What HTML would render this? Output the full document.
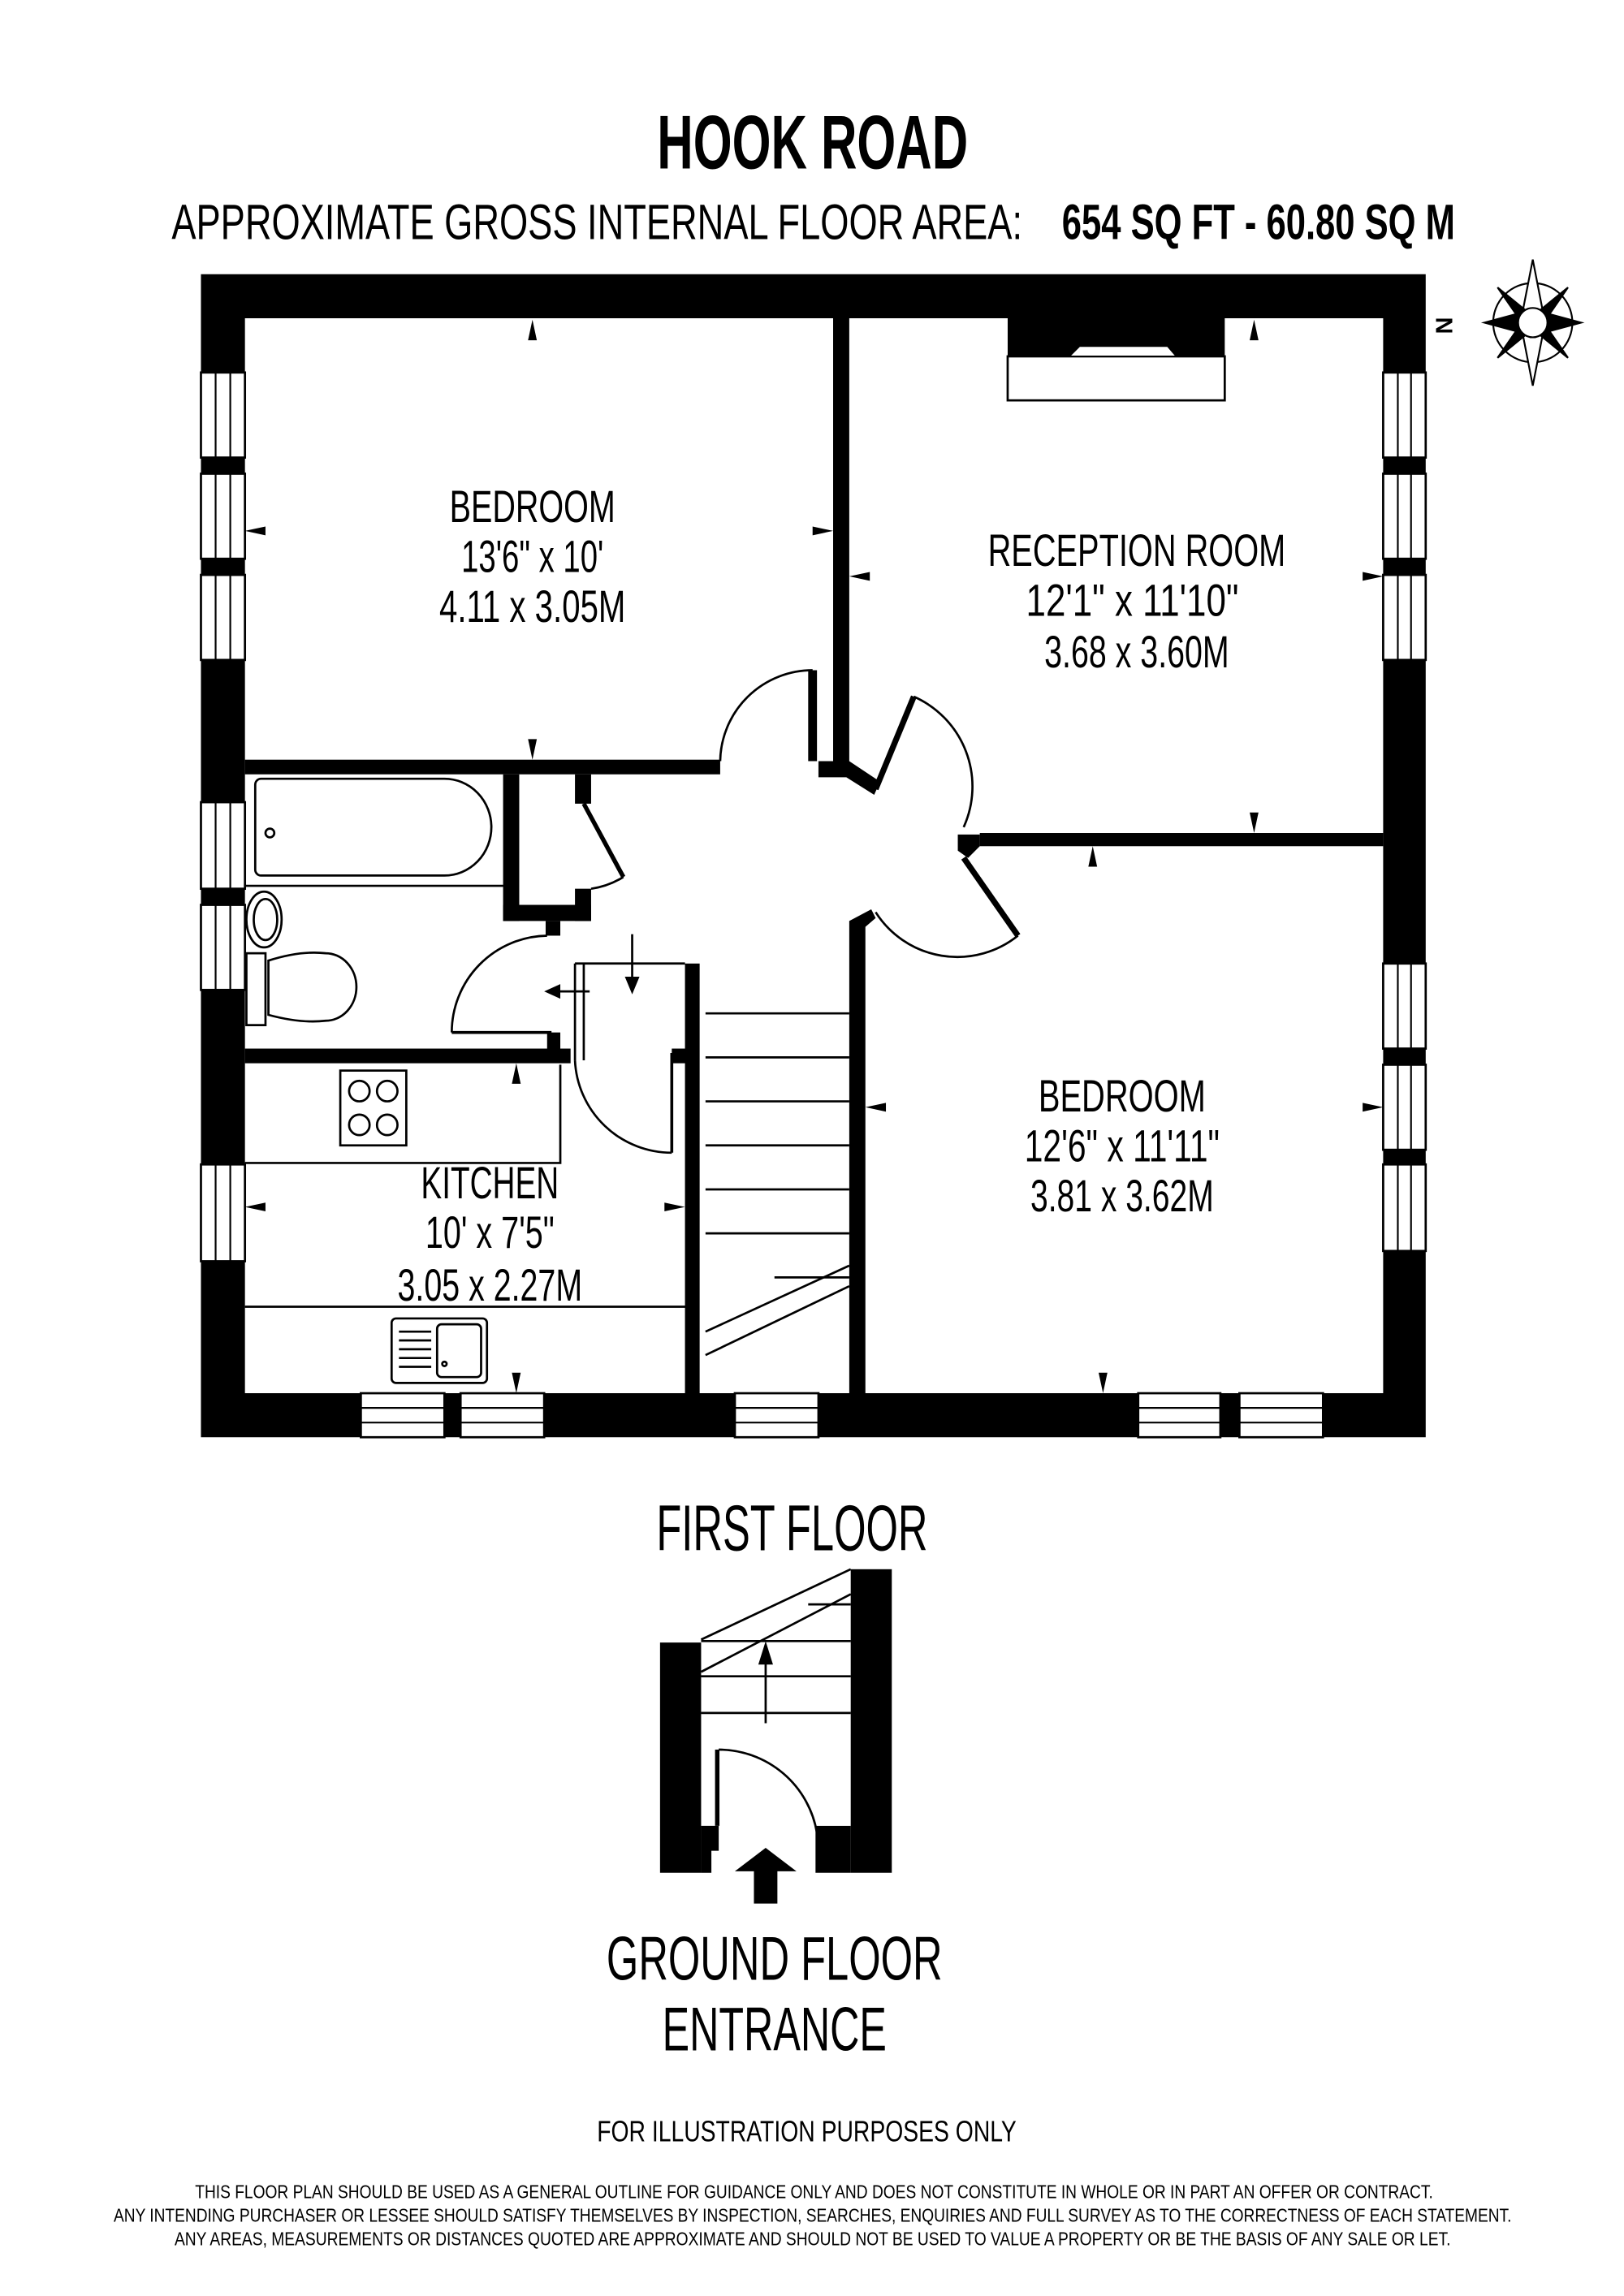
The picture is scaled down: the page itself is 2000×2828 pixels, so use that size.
<!DOCTYPE html>
<html><head><meta charset="utf-8"><style>
html,body{margin:0;padding:0;background:#fff}
svg{display:block}
text{font-family:"Liberation Sans",sans-serif;fill:#000}
</style></head><body>
<svg width="2000" height="2828" viewBox="0 0 1100 1555.4" xmlns="http://www.w3.org/2000/svg">
<rect width="1100" height="1556" fill="#fff"/>
<g transform="scale(0.9935)">
<!-- titles -->
<text x="554" y="115" font-size="52" font-weight="bold" text-anchor="middle" textLength="212" lengthAdjust="spacingAndGlyphs">HOOK ROAD</text>
<text x="117" y="163" font-size="34" textLength="580" lengthAdjust="spacingAndGlyphs">APPROXIMATE GROSS INTERNAL FLOOR AREA:</text>
<text x="724" y="163" font-size="34" font-weight="bold" textLength="268" lengthAdjust="spacingAndGlyphs">654 SQ FT  -  60.80 SQ M</text>

<!-- outer walls -->
<path fill="#000" fill-rule="evenodd" d="M137 187H972V980H137Z M167 217H943V950H167Z"/>
<g fill="#fff" stroke="#000" stroke-width="1.5">
<rect x="137" y="254" width="30" height="58"/><rect x="137" y="323" width="30" height="58"/><rect x="137" y="392" width="30" height="58"/>
<rect x="137" y="547" width="30" height="59"/><rect x="137" y="617" width="30" height="58"/><rect x="137" y="794" width="30" height="66"/>
<rect x="943" y="254" width="29" height="58"/><rect x="943" y="323" width="29" height="58"/><rect x="943" y="392" width="29" height="58"/>
<rect x="943" y="657" width="29" height="58"/><rect x="943" y="726" width="29" height="58"/><rect x="943" y="794" width="29" height="59"/>
<rect x="246" y="950" width="57" height="30"/><rect x="314" y="950" width="57" height="30"/><rect x="501" y="950" width="57" height="30"/>
<rect x="776" y="950" width="56" height="30"/><rect x="845" y="950" width="57" height="30"/>
</g>
<g stroke="#000" stroke-width="1.2">
<path d="M147 254V312M157 254V312M147 323V381M157 323V381M147 392V450M157 392V450M147 547V606M157 547V606M147 617V675M157 617V675M147 794V860M157 794V860"/>
<path d="M953 254V312M962 254V312M953 323V381M962 323V381M953 392V450M962 392V450M953 657V715M962 657V715M953 726V784M962 726V784M953 794V853M962 794V853"/>
<path d="M246 960H303M246 970H303M314 960H371M314 970H371M501 960H558M501 970H558M776 960H832M776 970H832M845 960H902M845 970H902"/>
</g>

<!-- interior walls -->
<g fill="#000">
<rect x="167" y="518" width="324" height="10"/>
<rect x="568" y="217" width="11" height="310"/>
<polygon points="558,519 579,519 600,533 596,542 577,530 558,530"/>
<rect x="668" y="568" width="275" height="9"/>
<polygon points="653,569 668,569 668,577 660,585 653,580"/>
<rect x="579" y="628" width="11" height="322"/>
<polygon points="579,628 594,620 597,626 590,632"/>
<rect x="467" y="657" width="10" height="293"/>
<rect x="343" y="528" width="11" height="100"/>
<rect x="343" y="617" width="60" height="11"/>
<rect x="392" y="528" width="11" height="20"/>
<rect x="392" y="606" width="11" height="22"/>
<rect x="372" y="628" width="10" height="10"/>
<rect x="167" y="715" width="222" height="10"/>
<rect x="373" y="704" width="9" height="12"/>
<rect x="458" y="715" width="13" height="10"/>
<rect x="687" y="217" width="148" height="26"/>
</g>
<rect x="687" y="243" width="148" height="30" fill="#fff" stroke="#000" stroke-width="1.5"/>
<polygon points="736,236 796,236 802,243 729,243" fill="#fff" stroke="#000" stroke-width="1"/>

<!-- doors -->
<g fill="none" stroke="#000" stroke-width="1.5">
<path d="M491 519 A63 63 0 0 1 554 457"/>
<path d="M554 457V519" stroke-width="6"/>
<path d="M597 538 L623 475" stroke-width="4"/>
<path d="M623 475 A67 67 0 0 1 657 564"/>
<path d="M657 585 L694 638" stroke-width="4"/>
<path d="M694 638 A66 66 0 0 1 597 622"/>
<path d="M398 548 L425 598" stroke-width="3"/>
<path d="M425 598 A56 56 0 0 1 403 606"/>
<path d="M373 638 A66 66 0 0 0 308 704"/>
<path d="M308 704H376" stroke-width="2"/>
<path d="M392 657H467"/>
<path d="M392 657V723"/><path d="M398 657V723"/>
<path d="M392 723 A66 66 0 0 0 458 786"/>
<path d="M458 718V786" stroke-width="2"/>
<path d="M431 637V668"/>
<path d="M402 676H380"/>
</g>
<polygon points="426,666 436,666 431,678" fill="#000"/>
<polygon points="382,671 382,681 371,676" fill="#000"/>

<!-- stairs -->
<g stroke="#000" stroke-width="1.5" fill="none">
<path d="M481 691H579M481 721H579M481 751H579M481 781H579M481 811H579M481 841H579M528 871H579"/>
<path d="M481 908L579 863M481 924L579 877"/>
</g>

<!-- bath -->
<g fill="none" stroke="#000" stroke-width="1.5">
<path d="M178 531H303A32 33 0 0 1 303 597H178A4 4 0 0 1 174 593V535A4 4 0 0 1 178 531Z"/>
<path d="M167 604H345"/>
<circle cx="184" cy="568" r="3"/>
<ellipse cx="180" cy="627" rx="12" ry="19"/>
<ellipse cx="181" cy="627" rx="8" ry="14"/>
<rect x="168" y="650" width="13" height="49"/>
<path d="M183 655 Q205 648 222 650 A21 23 0 0 1 222 696 Q205 698 183 692Z"/>
</g>

<!-- kitchen -->
<g fill="none" stroke="#000" stroke-width="1.5">
<path d="M382 726V793H167"/>
<rect x="232" y="730" width="45" height="51"/>
<circle cx="245" cy="744" r="7"/><circle cx="264" cy="744" r="7"/>
<circle cx="245" cy="767" r="7"/><circle cx="264" cy="767" r="7"/>
<path d="M167 891H471"/>
<rect x="267" y="899" width="65" height="44" rx="3"/>
<rect x="298" y="903" width="30" height="36" rx="3"/>
<path d="M272 908H294M272 914H294M272 920H294M272 926H294M272 932H294"/>
<circle cx="303" cy="930" r="1.5"/>
</g>

<!-- dimension markers -->
<g fill="#000">
<polygon points="363,218 360,232 366,232"/>
<polygon points="363,518 360,504 366,504"/>
<polygon points="167,362 181,359 181,365"/>
<polygon points="568,362 554,359 554,365"/>
<polygon points="855,218 852,232 858,232"/>
<polygon points="855,568 852,554 858,554"/>
<polygon points="579,393 593,390 593,396"/>
<polygon points="943,393 929,390 929,396"/>
<polygon points="352,725 349,739 355,739"/>
<polygon points="352,950 349,936 355,936"/>
<polygon points="167,823 181,820 181,826"/>
<polygon points="467,823 453,820 453,826"/>
<polygon points="745,577 742,591 748,591"/>
<polygon points="752,950 749,936 755,936"/>
<polygon points="590,755 604,752 604,758"/>
<polygon points="943,755 929,752 929,758"/>
</g>

<!-- room labels -->
<g font-size="31" text-anchor="middle">
<text x="363" y="356" textLength="113" lengthAdjust="spacingAndGlyphs">BEDROOM</text>
<text x="363" y="390" textLength="97" lengthAdjust="spacingAndGlyphs">13'6" x 10'</text>
<text x="363" y="424" textLength="127" lengthAdjust="spacingAndGlyphs">4.11 x 3.05M</text>
<text x="775" y="386" textLength="203" lengthAdjust="spacingAndGlyphs">RECEPTION ROOM</text>
<text x="772" y="420" textLength="145" lengthAdjust="spacingAndGlyphs">12'1" x 11'10"</text>
<text x="775" y="455" textLength="126" lengthAdjust="spacingAndGlyphs">3.68 x 3.60M</text>
<text x="765" y="758" textLength="114" lengthAdjust="spacingAndGlyphs">BEDROOM</text>
<text x="765" y="792" textLength="133" lengthAdjust="spacingAndGlyphs">12'6" x 11'11"</text>
<text x="765" y="826" textLength="125" lengthAdjust="spacingAndGlyphs">3.81 x 3.62M</text>
<text x="334" y="817" textLength="94" lengthAdjust="spacingAndGlyphs">KITCHEN</text>
<text x="334" y="851" textLength="88" lengthAdjust="spacingAndGlyphs">10' x 7'5"</text>
<text x="334" y="887" textLength="126" lengthAdjust="spacingAndGlyphs">3.05 x 2.27M</text>
</g>

<!-- compass -->
<g stroke="#000" stroke-width="1.2" fill="#fff">
<circle cx="1045" cy="220" r="27"/>
<polygon points="1045,177 1052,213 1045,220 1038,213"/>
<polygon points="1045,263 1052,227 1045,220 1038,227"/>
<polygon points="1012,220 1038,213 1045,220 1038,227" fill="#000"/>
<polygon points="1078,220 1052,213 1045,220 1052,227" fill="#000"/>
<polygon points="1021,196 1043,214 1039,222" fill="#000"/>
<polygon points="1069,196 1047,214 1051,222" fill="#000"/>
<polygon points="1021,244 1043,226 1039,218" fill="#000"/>
<polygon points="1069,244 1047,226 1051,218" fill="#000"/>
<circle cx="1045" cy="220" r="10"/>
</g>
<text x="0" y="0" font-size="16" font-weight="bold" text-anchor="middle" transform="translate(979,222) rotate(90)">N</text>

<text x="540" y="1057" font-size="44" text-anchor="middle" textLength="185" lengthAdjust="spacingAndGlyphs">FIRST FLOOR</text>

<!-- entrance -->
<g fill="#000">
<rect x="450" y="1120" width="28" height="157"/>
<polygon points="478,1245 490,1245 490,1262 485,1262 485,1277 478,1277"/>
<rect x="580" y="1070" width="28" height="207"/>
<rect x="556" y="1245" width="24" height="32"/>
<polygon points="514,1298 530,1298 530,1276 543,1276 522,1260 501,1276 514,1276"/>
</g>
<g stroke="#000" stroke-width="1.5" fill="none">
<path d="M478 1168H580M478 1143H580M478 1119H580M551 1094H580"/>
<path d="M478 1118L580 1070M478 1140L580 1087"/>
<path d="M522 1175V1130"/>
<path d="M489 1193V1245" stroke-width="3"/>
<path d="M490 1193 A68 68 0 0 1 557 1250"/>
</g>
<polygon points="517,1135 527,1135 522,1119" fill="#000"/>

<text x="528" y="1350" font-size="42" text-anchor="middle" textLength="229" lengthAdjust="spacingAndGlyphs">GROUND FLOOR</text>
<text x="528" y="1398" font-size="42" text-anchor="middle" textLength="153" lengthAdjust="spacingAndGlyphs">ENTRANCE</text>
<text x="550" y="1460" font-size="20" text-anchor="middle" textLength="286" lengthAdjust="spacingAndGlyphs">FOR ILLUSTRATION PURPOSES ONLY</text>
<g font-size="13" text-anchor="middle">
<text x="555" y="1499" textLength="844" lengthAdjust="spacingAndGlyphs">THIS FLOOR PLAN SHOULD BE USED AS A GENERAL OUTLINE FOR GUIDANCE ONLY AND DOES NOT CONSTITUTE IN WHOLE OR IN PART AN OFFER OR CONTRACT.</text>
<text x="554" y="1515" textLength="953" lengthAdjust="spacingAndGlyphs">ANY INTENDING PURCHASER OR LESSEE SHOULD SATISFY THEMSELVES BY INSPECTION, SEARCHES, ENQUIRIES AND FULL SURVEY AS TO THE CORRECTNESS OF EACH STATEMENT.</text>
<text x="554" y="1531" textLength="870" lengthAdjust="spacingAndGlyphs">ANY AREAS, MEASUREMENTS OR DISTANCES QUOTED ARE APPROXIMATE AND SHOULD NOT BE USED TO VALUE A PROPERTY OR BE THE BASIS OF ANY SALE OR LET.</text>
</g>
</g>
</svg>
</body></html>
